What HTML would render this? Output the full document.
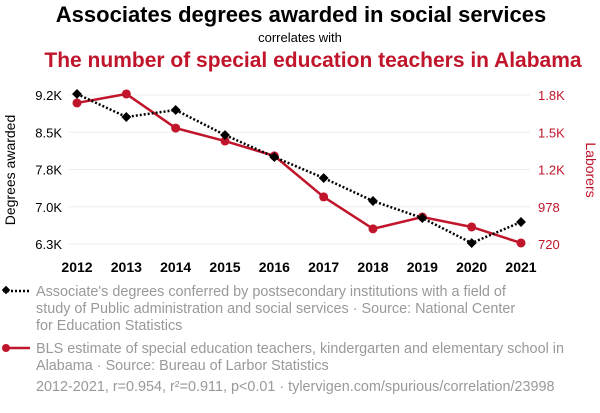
<!DOCTYPE html>
<html><head><meta charset="utf-8"><style>
body{margin:0;background:#fff;font-family:"Liberation Sans",sans-serif;}
svg text{font-family:"Liberation Sans",sans-serif;}
</style></head><body>
<svg id="chart" width="600" height="408" viewBox="0 0 600 408">
<text x="301" y="22" text-anchor="middle" font-size="22" font-weight="bold" fill="#000">Associates degrees awarded in social services</text>
<text x="300" y="42" text-anchor="middle" font-size="13" fill="#000">correlates with</text>
<text x="313" y="67" text-anchor="middle" font-size="21" font-weight="bold" fill="#c0152b">The number of special education teachers in Alabama</text>
<g id="grid"></g><g id="axes"></g><g id="series"></g>
<text transform="translate(15,170) rotate(-90)" text-anchor="middle" font-size="14" fill="#000">Degrees awarded</text>
<text transform="translate(586,170) rotate(90)" text-anchor="middle" font-size="14" fill="#c0152b">Laborers</text>
<g>
<line x1="3" y1="291" x2="30" y2="291" stroke="#000" stroke-width="2.5" stroke-dasharray="2,2"/>
<rect x="3" y="287" width="6" height="6" transform="rotate(45 6 290)" fill="#000"/>
<text font-size="14.4" fill="#999"><tspan x="36" y="296">Associate's degrees conferred by postsecondary institutions with a field of</tspan><tspan x="36" y="313">study of Public administration and social services · Source: National Center</tspan><tspan x="36" y="330">for Education Statistics</tspan></text></g>
<g>
<line x1="3" y1="348" x2="30" y2="348" stroke="#c0152b" stroke-width="2.5"/>
<circle cx="6" cy="348" r="4" fill="#c0152b"/>
<text font-size="14.4" fill="#999"><tspan x="36" y="353">BLS estimate of special education teachers, kindergarten and elementary school in</tspan><tspan x="36" y="370">Alabama · Source: Bureau of Larbor Statistics</tspan></text></g>
<text x="36" y="391" font-size="14.4" fill="#999">2012-2021, r=0.954, r²=0.911, p&lt;0.01 · tylervigen.com/spurious/correlation/23998</text>
</svg>
<script>
const years=[2012,2013,2014,2015,2016,2017,2018,2019,2020,2021];
const degrees=[9220,8772,8908,8421,7993,7584,7137,6806,6319,6728];
const teachers=[1697,1759,1523,1433,1330,1046,825,907,838,727];
const leftTicks=[6300,7025,7750,8475,9200];
const leftLabels=["6.3K","7.0K","7.8K","8.5K","9.2K"];
const rightTicks=[720,978,1236,1494,1752];
const rightLabels=["720","978","1.2K","1.5K","1.8K"];
const NS="http://www.w3.org/2000/svg";
const x=i=>77+(521-77)*(years[i]-2012)/9;
const yL=v=>244-(v-6300)/(9200-6300)*149;
const yR=v=>244-(v-720)/(1752-720)*149;
function mk(t,a,p){const e=document.createElementNS(NS,t);for(const k in a)e.setAttribute(k,a[k]);p.appendChild(e);return e;}
const grid=document.getElementById('grid'),axes=document.getElementById('axes'),ser=document.getElementById('series');
leftTicks.forEach((v,i)=>{
 const g=mk('line',{x1:68,x2:530,y1:yL(v),y2:yL(v),stroke:'#eee','stroke-width':1},grid);
 
 
 const t=mk('text',{x:62,y:yL(v)+5,'text-anchor':'end','font-size':13,fill:'#000'},axes);t.textContent=leftLabels[i];
 
 
});
rightTicks.forEach((v,i)=>{
 const t=mk('text',{x:538,y:yR(v)+5,'font-size':13,fill:'#c0152b'},axes);t.textContent=rightLabels[i];
 
 
});
years.forEach((yr,i)=>{
 const t=mk('text',{x:x(i),y:272,'text-anchor':'middle','font-size':14,'font-weight':'bold',fill:'#000'},axes);t.textContent=yr;
 
 
});
const pr=teachers.map((v,i)=>x(i)+','+yR(v)).join(' ');
const lr=mk('polyline',{points:pr,fill:'none',stroke:'#c0152b','stroke-width':2.5},ser);


teachers.forEach((v,i)=>{const c=mk('circle',{cx:x(i),cy:yR(v),r:4.5,fill:'#c0152b'},ser);
 
 });
const pb=degrees.map((v,i)=>x(i)+','+yL(v)).join(' ');
const lb=mk('polyline',{points:pb,fill:'none',stroke:'#000','stroke-width':2.5,'stroke-dasharray':'2,2'},ser);


degrees.forEach((v,i)=>{const X=x(i),Y=yL(v);const r=mk('rect',{x:X-3.5,y:Y-3.5,width:7,height:7,transform:`rotate(45 ${X} ${Y})`,fill:'#000'},ser);
 
 });
</script>
</body></html>
